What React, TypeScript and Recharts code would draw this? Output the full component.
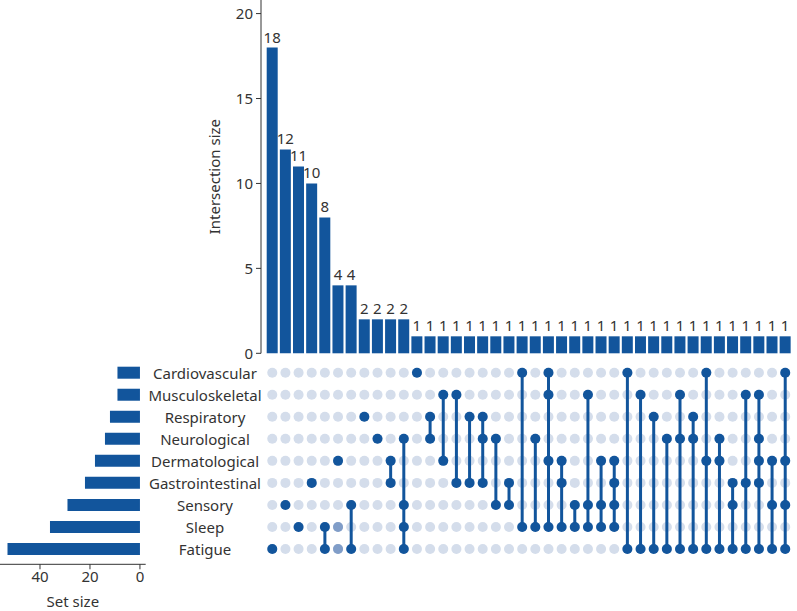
import { Bar, BarChart, LabelList, Scatter, ScatterChart, XAxis, YAxis } from "recharts";

const SETS = [
  "Cardiovascular",
  "Musculoskeletal",
  "Respiratory",
  "Neurological",
  "Dermatological",
  "Gastrointestinal",
  "Sensory",
  "Sleep",
  "Fatigue",
];

const SET_SIZES = [9, 9, 12, 14, 18, 22, 29, 36, 53];

const INTERSECTION_SIZES = [
  18, 12, 11, 10, 8, 4, 4, 2, 2, 2, 2, 1, 1, 1, 1, 1, 1, 1, 1, 1, 1, 1, 1, 1, 1, 1, 1, 1, 1, 1, 1, 1, 1, 1, 1, 1,
  1, 1, 1, 1,
];

const MEMBERS: string[][] = [
  ["Fatigue"],
  ["Sensory"],
  ["Sleep"],
  ["Gastrointestinal"],
  ["Sleep", "Fatigue"],
  ["Dermatological"],
  ["Sensory", "Fatigue"],
  ["Respiratory"],
  ["Neurological"],
  ["Dermatological", "Gastrointestinal"],
  ["Neurological", "Sensory", "Sleep", "Fatigue"],
  ["Cardiovascular"],
  ["Respiratory", "Neurological"],
  ["Musculoskeletal", "Dermatological"],
  ["Musculoskeletal", "Gastrointestinal"],
  ["Respiratory", "Gastrointestinal"],
  ["Respiratory", "Neurological", "Gastrointestinal"],
  ["Neurological", "Sensory"],
  ["Gastrointestinal", "Sensory"],
  ["Cardiovascular", "Sleep"],
  ["Neurological", "Sleep"],
  ["Cardiovascular", "Musculoskeletal", "Dermatological", "Sleep"],
  ["Dermatological", "Gastrointestinal", "Sleep"],
  ["Sensory", "Sleep"],
  ["Musculoskeletal", "Sensory", "Sleep"],
  ["Dermatological", "Sensory", "Sleep"],
  ["Dermatological", "Gastrointestinal", "Sensory", "Sleep"],
  ["Cardiovascular", "Fatigue"],
  ["Musculoskeletal", "Fatigue"],
  ["Respiratory", "Fatigue"],
  ["Neurological", "Fatigue"],
  ["Musculoskeletal", "Neurological", "Fatigue"],
  ["Respiratory", "Neurological", "Fatigue"],
  ["Cardiovascular", "Dermatological", "Fatigue"],
  ["Neurological", "Dermatological", "Fatigue"],
  ["Gastrointestinal", "Sensory", "Fatigue"],
  ["Musculoskeletal", "Gastrointestinal", "Fatigue"],
  ["Musculoskeletal", "Neurological", "Dermatological", "Gastrointestinal", "Fatigue"],
  ["Dermatological", "Sensory", "Fatigue"],
  ["Cardiovascular", "Dermatological", "Sensory", "Fatigue"],
];

// greyed-out dots drawn a bit darker in the original (column 6)
const FADED: [number, string][] = [
  [5, "Sleep"],
  [5, "Fatigue"],
];

const DARK = "#12559c";
const LIGHT = "#d4ddeb";
const FADE = "#809dc8";
const INK = "#333";
const FS = 15;
const W = 797;
const H = 611;

const barData = INTERSECTION_SIZES.map((v, i) => ({ name: `c${i + 1}`, size: v }));
const setData = SETS.map((s, i) => ({ name: s, size: SET_SIZES[i] }));
const bgDots = MEMBERS.flatMap((_, i) => SETS.map((_, r) => ({ x: i, y: r })));
const fadedDots = FADED.map(([i, s]) => ({ x: i, y: SETS.indexOf(s) }));
const colDots = MEMBERS.map((m, i) =>
  m.map((s) => ({ x: i, y: SETS.indexOf(s) })).sort((a, b) => a.y - b.y)
);

const dot = (fill: string) => (p: any) => <circle cx={p.cx} cy={p.cy} r={5} fill={fill} />;

const layer = { position: "absolute" as const, left: 0, top: 0 };

export default function App() {
  return (
    <div
      style={{
        position: "absolute",
        left: 0,
        top: 0,
        width: W,
        height: H,
        background: "#fff",
        fontFamily: "'Noto Sans', sans-serif",
        fontSize: FS,
      }}
    >
      <div style={layer}>
        <BarChart width={W} height={365} data={barData} margin={{ top: 0, right: 0, bottom: 11.7, left: 169 }}>
          <XAxis
            dataKey="name"
            height={0}
            tick={false}
            tickLine={false}
            padding={{ left: 4.7, right: 5.2 }}
            axisLine={{ stroke: INK }}
          />
          <YAxis
            width={92}
            domain={[0, 20.8]}
            ticks={[0, 5, 10, 15, 20]}
            interval={0}
            tick={{ fill: INK, fontSize: FS }}
            tickSize={5}
            tickMargin={3}
            axisLine={{ stroke: INK }}
            tickLine={{ stroke: INK }}
            label={{ value: "Intersection size", angle: -90, position: "center", fill: INK, fontSize: FS }}
          />
          <Bar dataKey="size" fill={DARK} barSize={11} isAnimationActive={false}>
            <LabelList dataKey="size" position="top" fill={INK} fontSize={FS} />
          </Bar>
        </BarChart>
      </div>

      <div style={layer}>
        <ScatterChart width={W} height={H} margin={{ top: 361.7, right: 5.2, bottom: 51, left: 265.7 }}>
          <XAxis type="number" dataKey="x" domain={[-0.5, 39.5]} hide />
          <YAxis type="number" dataKey="y" domain={[-0.5, 8.5]} reversed hide />
          <Scatter data={bgDots} shape={dot(LIGHT)} isAnimationActive={false} />
          <Scatter data={fadedDots} shape={dot(FADE)} isAnimationActive={false} />
          {colDots.map((d, i) => (
            <Scatter
              key={i}
              data={d}
              shape={dot(DARK)}
              line={{ stroke: DARK, strokeWidth: 3 }}
              isAnimationActive={false}
            />
          ))}
        </ScatterChart>
      </div>

      <div style={layer}>
        <BarChart
          width={W}
          height={H}
          data={setData}
          layout="vertical"
          margin={{ top: 361.7, right: 521.3, bottom: 1.7, left: 0 }}
        >
          <XAxis
            type="number"
            domain={[-2.3, 56]}
            reversed
            ticks={[0, 20, 40]}
            interval={0}
            height={45}
            tick={{ fill: INK, fontSize: FS }}
            tickSize={5}
            tickMargin={2}
            axisLine={{ stroke: INK }}
            tickLine={{ stroke: INK }}
            label={{ value: "Set size", position: "insideBottom", offset: 2, fill: INK, fontSize: FS }}
          />
          <YAxis
            type="category"
            dataKey="name"
            orientation="right"
            width={130}
            interval={0}
            axisLine={false}
            tickLine={false}
            tickSize={0}
            tickMargin={0}
            padding={{ top: 0, bottom: 4.3 }}
            tick={(p: any) => (
              <text x={p.x + 59.3} y={p.y} textAnchor="middle" dominantBaseline="central" fill={INK} fontSize={FS}>
                {p.payload.value}
              </text>
            )}
          />
          <Bar dataKey="size" fill={DARK} barSize={12} isAnimationActive={false} />
        </BarChart>
      </div>
    </div>
  );
}
